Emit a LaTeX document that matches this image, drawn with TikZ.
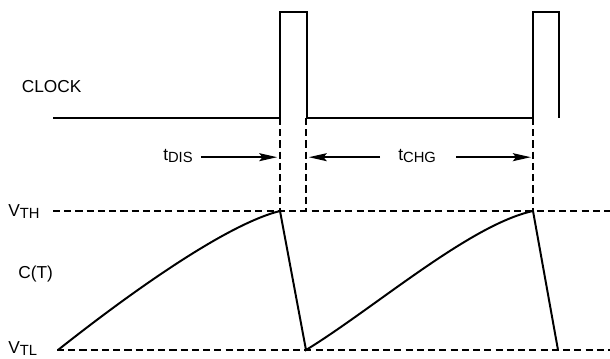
\documentclass[tikz,border=0pt]{standalone}
\usepackage{fontspec}
\setmainfont{Liberation Sans}
\usetikzlibrary{arrows.meta}
\newcommand{\lowsub}[1]{\raisebox{-1.7pt}{\fontsize{10.5}{12}\selectfont #1}}

\begin{document}
\begin{tikzpicture}[>={Stealth[length=.45cm,width=.2cm,inset=.08cm]},
  wave/.style={line width=1.4pt,line join=miter},
  guide/.style={line width=.8pt,dash pattern=on 5pt off 3pt},
  lbl/.style={inner sep=0pt,anchor=west,font=\fontsize{12.3}{14}\selectfont}]
  \useasboundingbox (0,0) rectangle (15.25,8.95);
  % clock
  \draw[wave] (1.325,6)--(7,6)--(7,8.65)--(7.675,8.65)--(7.675,6)
    --(13.325,6)--(13.325,8.65)--(13.975,8.65)--(13.975,6);
  \node[lbl] (clk) at (0.54,6.78) {CLOCK};
  % thresholds
  \node[lbl] (vth) at (0.2,3.66) {V\lowsub{TH}};
  \node[lbl] (vtl) at (0.2,0.23) {V\lowsub{TL}};
  \node[lbl] (ct) at (0.45,2.1) {C(T)};
  \draw[guide] (1.325,3.675)--(15.25,3.675);
  \draw[guide] (1.425,0.2)--(15.25,0.2);
  \draw[guide] (7,6)--(7,3.675);
  \draw[guide] (7.65,6)--(7.65,3.675);
  \draw[guide] (13.325,6)--(13.325,3.675);
  % capacitor voltage
  \draw[wave] (1.45,0.2) .. controls (3.115,1.52) and (5.61,3.33) .. (7,3.675)
    --(7.65,0.2) .. controls (9.35,1.24) and (11.74,3.33) .. (13.325,3.675)
    --(13.95,0.2);
  % times
  \node[lbl] (tdis) at (4.075,5.05) {t\lowsub{DIS}};
  \node[lbl] (tchg) at (9.95,5.05) {t\lowsub{CHG}};
  \coordinate (dis) at (6.93,5.02);
  \coordinate (chgl) at (7.72,5.02);
  \coordinate (chgr) at (13.27,5.02);
  \draw[->,line width=1pt] ([xshift=.2cm]tdis.east|-dis)--(dis);
  \draw[->,line width=1pt] ([xshift=-.45cm]tchg.west|-chgl)--(chgl);
  \draw[->,line width=1pt] ([xshift=.5cm]tchg.east|-chgr)--(chgr);
\end{tikzpicture}
\end{document}
